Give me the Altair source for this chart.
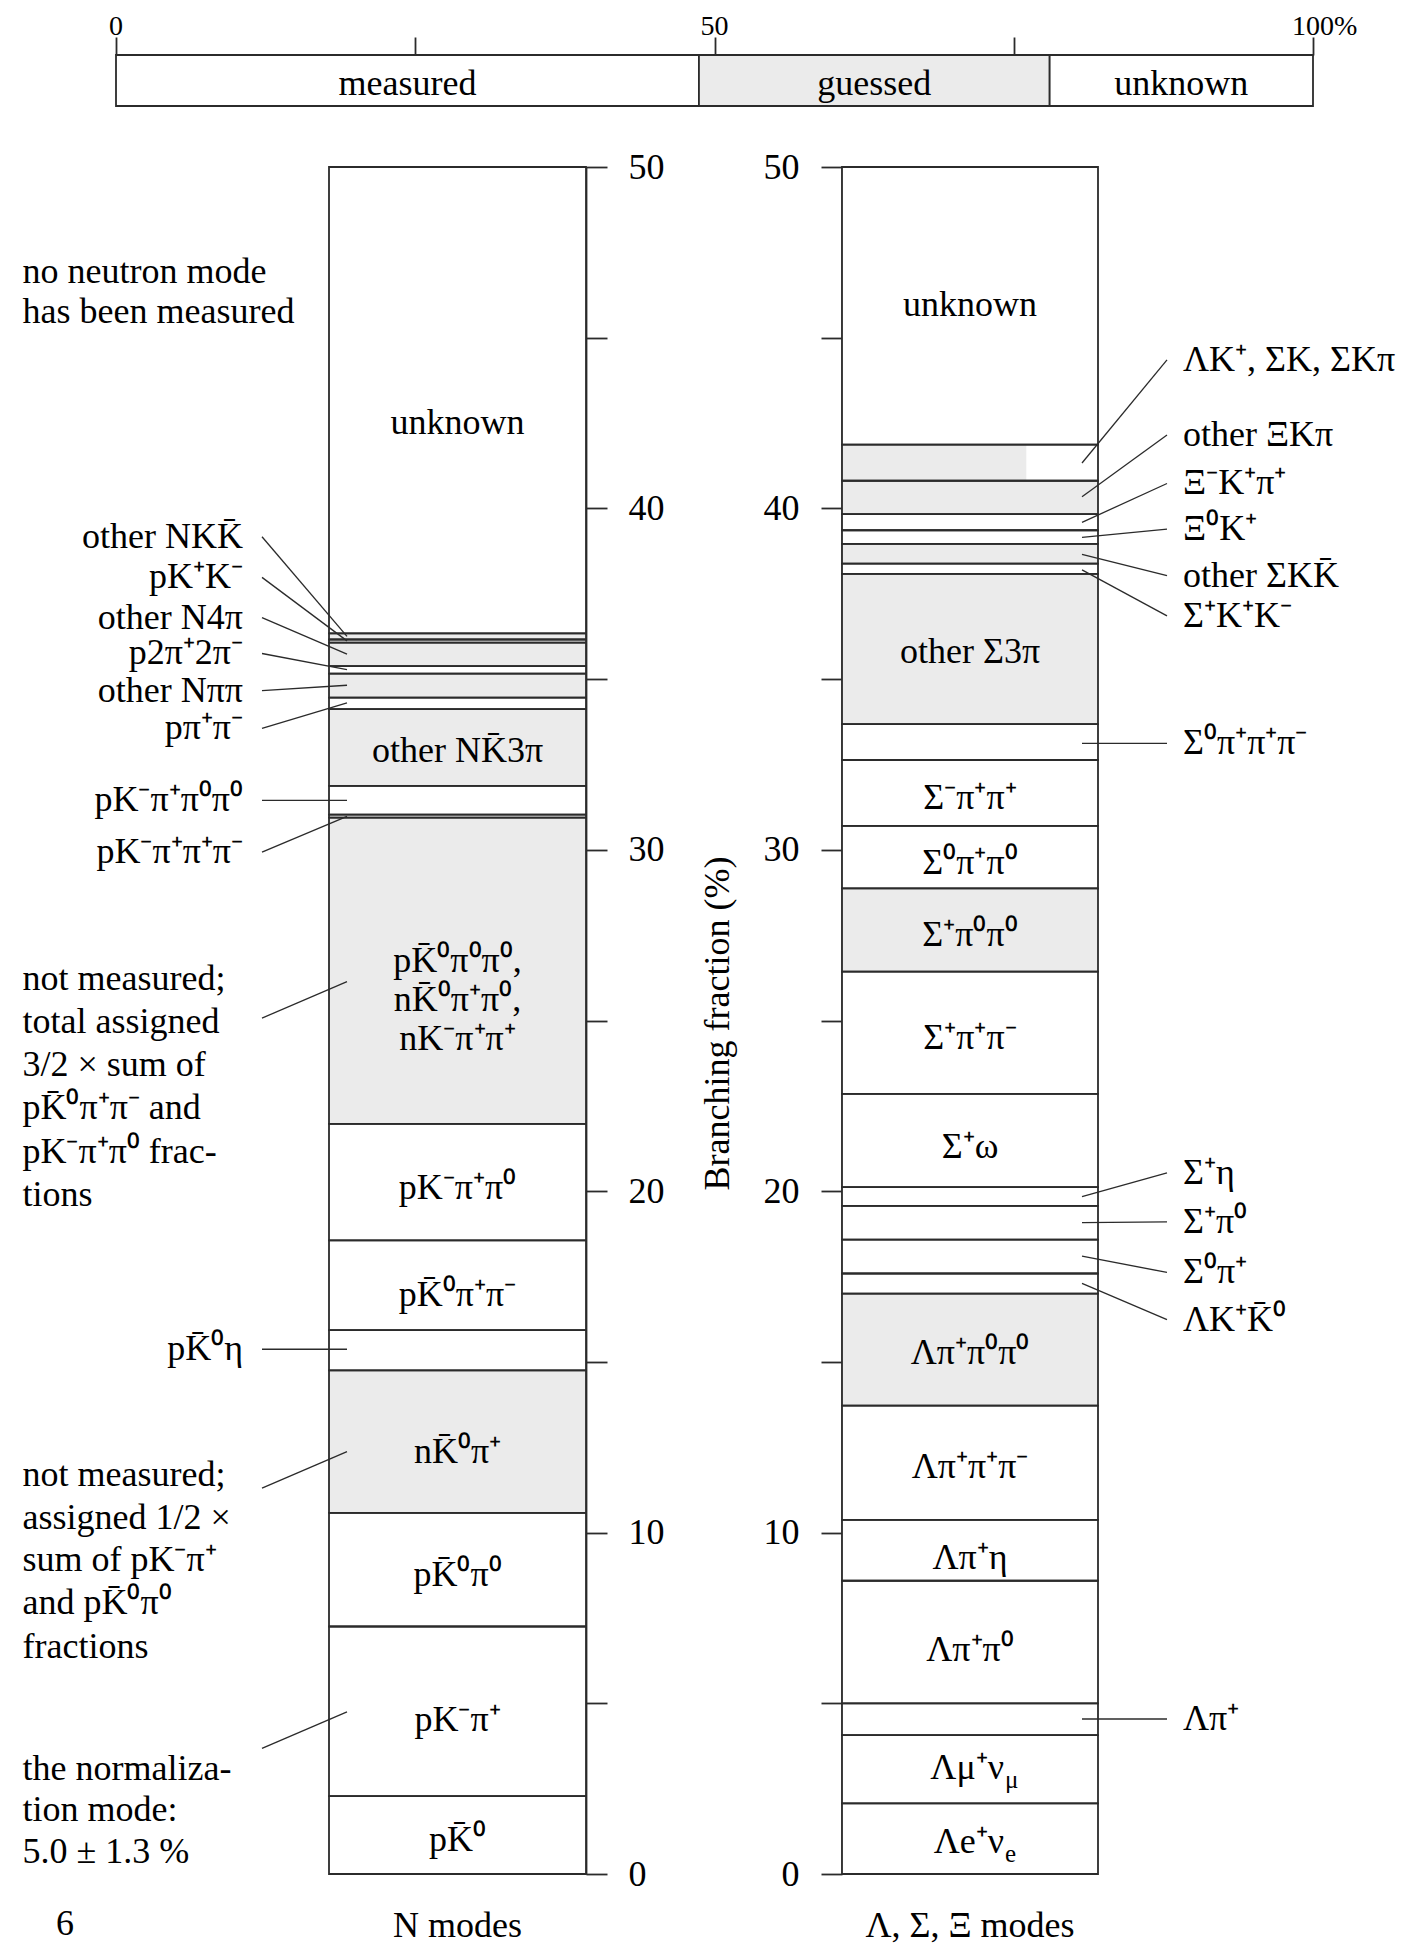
import altair as alt
import pandas as pd

FONT = "Liberation Serif"
INK = "#2b2b2b"
GRAY = "#ebebeb"
KB = "K\u0304"  # K with bar

# ---------------- data ----------------
# top legend (percent of the total)
LEG_CAT = ["measured", "guessed", "unknown"]
LEG_STATUS = ["m", "g", "u"]
LEG_START = [0.0, 48.7, 78.0]
LEG_END = [48.7, 78.0, 100.0]
LEG_TICKS = [0, 25, 50, 75, 100]
LEG_LABEL_POS = [0, 50, 100]
LEG_LABELS = ["0", "50", "100"]

# N modes: segment widths (branching fraction %), bottom to top
N_WIDTH = [2.28, 4.97, 3.33, 4.17, 1.18, 2.63, 3.41, 8.97, 0.09, 0.84,
           2.25, 0.34, 0.70, 0.22, 0.69, 0.09, 0.18, 13.66]
N_STATUS = ["m", "m", "m", "g", "m", "m", "m", "g", "m", "m",
            "g", "m", "g", "m", "g", "m", "g", "u"]

N_IN_TEXT = ["p" + KB + "⁰", "pK⁻π⁺", "p" + KB + "⁰π⁰", "n" + KB + "⁰π⁺",
             "p" + KB + "⁰π⁺π⁻", "pK⁻π⁺π⁰", "p" + KB + "⁰π⁰π⁰,",
             "n" + KB + "⁰π⁺π⁰,", "nK⁻π⁺π⁺", "other N" + KB + "3π", "unknown"]
N_IN_Y = [1.0, 4.51, 8.76, 12.37, 16.96, 20.08, 26.74, 25.6, 24.47, 32.9, 42.5]

N_OUT_TEXT = ["other NK" + KB, "pK⁺K⁻", "other N4π", "p2π⁺2π⁻", "other Nππ",
              "pπ⁺π⁻", "pK⁻π⁺π⁰π⁰", "pK⁻π⁺π⁺π⁻", "p" + KB + "⁰η"]
N_OUT_Y = [39.17, 37.98, 36.8, 35.75, 34.66, 33.56, 31.45, 29.93, 15.37]
N_OUT_BAR_Y = [36.25, 36.12, 35.73, 35.28, 34.82, 34.30, 31.45, 30.98, 15.37]

# Λ, Σ, Ξ modes
L_WIDTH = [2.07, 2.00, 0.93, 3.59, 1.78, 3.35, 3.28, 0.59, 0.99, 0.99,
           0.55, 2.73, 3.58, 2.44, 1.83, 1.93, 1.05, 4.40, 0.30, 0.58,
           0.40, 0.47, 0.98, 1.06, 8.13]
L_STATUS = ["m", "m", "m", "m", "m", "m", "g", "m", "m", "m",
            "m", "m", "m", "g", "m", "m", "m", "g", "m", "g",
            "m", "m", "g", "m", "u"]
L_PART = [0] * 23 + [0.72, 0]   # guessed share of the ΛK⁺, ΣK, ΣKπ segment

L_IN_TEXT = ["Λπ⁺π⁰", "Λπ⁺η", "Λπ⁺π⁺π⁻", "Λπ⁺π⁰π⁰", "Σ⁺ω", "Σ⁺π⁺π⁻",
             "Σ⁺π⁰π⁰", "Σ⁰π⁺π⁰", "Σ⁻π⁺π⁺", "other Σ3π", "unknown"]
L_IN_Y = [6.56, 9.25, 11.92, 15.25, 21.29, 24.48, 27.5, 29.6, 31.53, 35.8, 45.95]
L_SUB_MAIN = ["Λe⁺ν", "Λμ⁺ν"]
L_SUB_TEXT = ["e", "μ"]
L_SUB_Y = [0.95, 3.1]

L_OUT_TEXT = ["ΛK⁺, ΣK, ΣKπ", "other ΞKπ", "Ξ⁻K⁺π⁺", "Ξ⁰K⁺", "other ΣK" + KB,
              "Σ⁺K⁺K⁻", "Σ⁰π⁺π⁺π⁻", "Σ⁺η", "Σ⁺π⁰", "Σ⁰π⁺", "ΛK⁺" + KB + "⁰", "Λπ⁺"]
L_OUT_Y = [44.35, 42.15, 40.73, 39.39, 38.03, 36.85, 33.12, 20.54, 19.1, 17.62, 16.24, 4.54]
L_OUT_BAR_Y = [41.33, 40.34, 39.59, 39.15, 38.65, 38.2, 33.12, 19.84, 19.08, 18.1, 17.3, 4.54]

ANN_TEXT = ["no neutron mode", "has been measured",
            "not measured;", "total assigned", "3/2 × sum of",
            "p" + KB + "⁰π⁺π⁻ and", "pK⁻π⁺π⁰ frac-", "tions",
            "not measured;", "assigned 1/2 ×", "sum of pK⁻π⁺",
            "and p" + KB + "⁰π⁰", "fractions",
            "the normaliza-", "tion mode:", "5.0 ± 1.3 %"]
ANN_Y = [46.93, 45.76, 26.23, 24.97, 23.70, 22.43, 21.16, 19.89,
         11.69, 10.42, 9.2, 7.93, 6.66, 3.09, 1.87, 0.65]
ANN_LEAD_Y = [25.07, 11.3, 3.68]
ANN_LEAD_BAR_Y = [26.14, 12.37, 4.75]

AXIS_TICKS = list(range(0, 51, 5))
BOTTOM_TEXT = ["N modes", "Λ, Σ, Ξ modes"]
BOTTOM_Y = -1.52
PAGE_NO = "6"

# ---------------- layout (plot pixels) ----------------
W, H = 1392, 1819
Y_RANGE = [1819, 112]
COL_X = {"N": (321, 578), "L": (834, 1090)}
LEG_RANGE = [108, 1305]
LEG_LABEL_DY = -28
LEFT_LABEL_X = 235
LEFT_LEAD_X = (254, 339)
RIGHT_LEAD_X = (1074, 1159)
RIGHT_LABEL_X = 1175
ANN_X = 14.5
PAGE_NO_X = 57


def center(c):
    return (COL_X[c][0] + COL_X[c][1]) / 2


# ---------------- tables ----------------
seg_rows = []
for i, (w, s) in enumerate(zip(N_WIDTH, N_STATUS)):
    seg_rows.append(dict(col="N", order=i, value=w, status=s, part=0.0,
                         xl=COL_X["N"][0], xr=COL_X["N"][1]))
for i, (w, s, p) in enumerate(zip(L_WIDTH, L_STATUS, L_PART)):
    seg_rows.append(dict(col="L", order=i, value=w, status=s, part=p,
                         xl=COL_X["L"][0], xr=COL_X["L"][1]))
seg = pd.DataFrame(seg_rows)

inner = pd.DataFrame(
    [dict(x=center("N"), y=y, text=t) for t, y in zip(N_IN_TEXT, N_IN_Y)]
    + [dict(x=center("L"), y=y, text=t) for t, y in zip(L_IN_TEXT, L_IN_Y)])
sub_main = pd.DataFrame([dict(x=center("L"), y=y, text=t) for t, y in zip(L_SUB_MAIN, L_SUB_Y)])
sub_txt = pd.DataFrame([dict(x=center("L"), y=y, text=t) for t, y in zip(L_SUB_TEXT, L_SUB_Y)])

left_out = pd.DataFrame(dict(x=LEFT_LABEL_X, y=N_OUT_Y, text=N_OUT_TEXT))
right_out = pd.DataFrame(dict(x=RIGHT_LABEL_X, y=L_OUT_Y, text=L_OUT_TEXT))
ann = pd.DataFrame(dict(x=ANN_X, y=ANN_Y, text=ANN_TEXT))

lead_rows = []
for ly, by in zip(N_OUT_Y + ANN_LEAD_Y, N_OUT_BAR_Y + ANN_LEAD_BAR_Y):
    lead_rows.append(dict(x=LEFT_LEAD_X[0], x2=LEFT_LEAD_X[1], y=ly, y2=by))
for ly, by in zip(L_OUT_Y, L_OUT_BAR_Y):
    lead_rows.append(dict(x=RIGHT_LEAD_X[0], x2=RIGHT_LEAD_X[1], y=by, y2=ly))
leads = pd.DataFrame(lead_rows)

bottom = pd.DataFrame(dict(x=[center("N"), center("L"), PAGE_NO_X],
                           y=[BOTTOM_Y, BOTTOM_Y, BOTTOM_Y + 0.05],
                           text=BOTTOM_TEXT + [PAGE_NO]))

leg = pd.DataFrame(dict(cat=LEG_CAT, status=LEG_STATUS, start=LEG_START, end=LEG_END))
leg_lab = pd.DataFrame(dict(x=LEG_LABEL_POS, text=LEG_LABELS))

# ---------------- scales ----------------
def xs():
    return alt.Scale(domain=[0, W], range=[0, W], nice=False, zero=False)


def ys():
    return alt.Scale(domain=[0, 50], range=Y_RANGE, nice=False, zero=False)


def ls():
    return alt.Scale(domain=[0, 100], range=LEG_RANGE, nice=False, zero=False)


fill_scale = alt.Scale(domain=["m", "g", "u"], range=["white", GRAY, "white"])
label_expr = "datum.value % 10 == 0 ? datum.label : ''"

# ---------------- layers ----------------
base = alt.Chart(seg).transform_window(
    y_hi="sum(value)", frame=[None, 0], groupby=["col"], sort=[alt.SortField("order")]
).transform_calculate(
    y_lo="datum.y_hi - datum.value",
    xp="datum.xl + datum.part * (datum.xr - datum.xl)",
)

fills = base.mark_rect(strokeWidth=0).encode(
    x=alt.X("xl:Q", scale=xs(), axis=None),
    x2="xr:Q",
    y=alt.Y("y_lo:Q", scale=ys(), axis=alt.Axis(
        orient="right", offset=-(W - COL_X["N"][1]), values=AXIS_TICKS,
        labelExpr=label_expr, tickSize=21, labelPadding=21, grid=False,
        title="Branching fraction (%)", titleAngle=270, titleX=131, titleY=968,
        titleAlign="center", titleBaseline="middle", titleFont=FONT,
        titleFontSize=36, titleFontWeight="normal", titleColor="black")),
    y2="y_hi:Q",
    fill=alt.Fill("status:N", scale=fill_scale, legend=None),
)

partial = base.transform_filter("datum.part > 0").mark_rect(fill=GRAY, strokeWidth=0).encode(
    x=alt.X("xl:Q", scale=xs(), axis=None),
    x2="xp:Q",
    y=alt.Y("y_lo:Q", scale=ys(), axis=None),
    y2="y_hi:Q",
)

strokes = base.mark_rect(filled=False, stroke=INK, strokeWidth=1.8).encode(
    x=alt.X("xl:Q", scale=xs(), axis=None),
    x2="xr:Q",
    y=alt.Y("y_lo:Q", scale=ys(), axis=alt.Axis(
        orient="left", offset=-COL_X["L"][0], values=AXIS_TICKS,
        labelExpr=label_expr, tickSize=21, labelPadding=22, grid=False, title=None)),
    y2="y_hi:Q",
)


def text_layer(df, align="center", size=36, dx=0, dy=0):
    return alt.Chart(df).mark_text(font=FONT, fontSize=size, align=align,
                                   baseline="middle", color="black", dx=dx, dy=dy).encode(
        x=alt.X("x:Q", scale=xs(), axis=None),
        y=alt.Y("y:Q", scale=ys(), axis=None),
        text="text:N",
    )


inner_t = text_layer(inner)
sub_main_t = text_layer(sub_main, align="right", dx=34)
sub_t = text_layer(sub_txt, align="left", size=25, dx=35, dy=12)
left_t = text_layer(left_out, align="right")
right_t = text_layer(right_out, align="left")
ann_t = text_layer(ann, align="left")
bottom_t = text_layer(bottom)

leaders = alt.Chart(leads).mark_rule(color=INK, strokeWidth=1.3).encode(
    x=alt.X("x:Q", scale=xs(), axis=None),
    x2="x2:Q",
    y=alt.Y("y:Q", scale=ys(), axis=None),
    y2="y2:Q",
)

leg_rect = alt.Chart(leg).mark_rect(stroke=INK, strokeWidth=1.8).encode(
    x=alt.X("start:Q", scale=ls(), axis=alt.Axis(
        orient="top", values=LEG_TICKS, tickSize=18, labels=False, title=None, grid=False)),
    x2="end:Q",
    y=alt.value(0),
    y2=alt.value(51),
    fill=alt.Fill("status:N", scale=fill_scale, legend=None),
)

leg_text = alt.Chart(leg).transform_calculate(mid="(datum.start + datum.end) / 2").mark_text(
    font=FONT, fontSize=36, baseline="middle", color="black").encode(
    x=alt.X("mid:Q", scale=ls(), axis=None),
    y=alt.value(29),
    text="cat:N",
)

leg_ticks_t = alt.Chart(leg_lab).mark_text(
    font=FONT, fontSize=28, baseline="middle", color="black").encode(
    x=alt.X("x:Q", scale=ls(), axis=None),
    y=alt.value(LEG_LABEL_DY),
    text="text:N",
)

leg_pct = alt.Chart(leg_lab).transform_filter("datum.x == 100").mark_text(
    font=FONT, fontSize=28, baseline="middle", align="left", color="black", dx=21).encode(
    x=alt.X("x:Q", scale=ls(), axis=None),
    y=alt.value(LEG_LABEL_DY),
    text=alt.value("%"),
)

chart = alt.layer(
    fills, partial, strokes, leaders, inner_t, sub_main_t, sub_t, left_t, right_t,
    ann_t, bottom_t, leg_rect, leg_text, leg_ticks_t, leg_pct,
).resolve_scale(
    x="independent"
).resolve_axis(
    x="independent", y="independent"
).properties(
    width=W, height=H,
    autosize=alt.AutoSizeParams(type="none"),
    padding={"left": 0, "top": 47, "right": 0, "bottom": 71},
    background="white",
).configure_view(
    stroke=None
).configure_axis(
    labelFont=FONT, labelFontSize=36, labelColor="black",
    domainColor=INK, tickColor=INK, domainWidth=1.8, tickWidth=1.8,
)

chart.save("out.html", embed_options={"renderer": "svg", "actions": False})
